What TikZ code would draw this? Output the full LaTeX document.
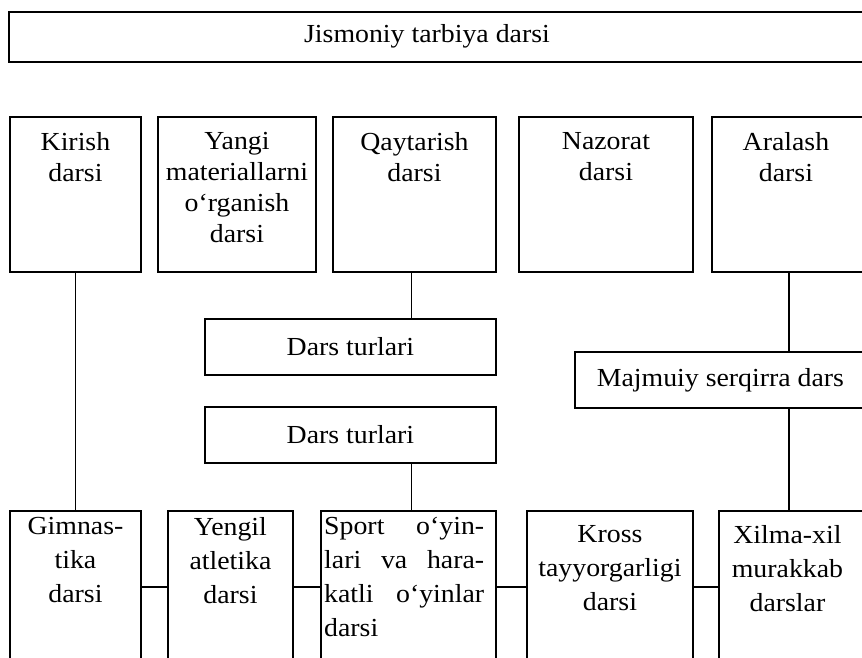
\documentclass[tikz,border=0pt]{standalone}
\usepackage{fontspec}
\setmainfont[FakeStretch=1.07]{Liberation Serif}
\usetikzlibrary{positioning}
\tikzset{
  lesson/.style={draw, line width=1.9pt, anchor=north west, inner sep=0pt, font=\fontsize{26}{31}\selectfont},
  caption/.style={inner sep=0pt, align=center, font=\fontsize{26}{31}\selectfont},
  lowcaption/.style={caption, font=\fontsize{26}{34}\selectfont},
  link/.style={line width=1.9pt}
}
\begin{document}
\begin{tikzpicture}[x=1pt, y=-1pt]
  \useasboundingbox (0,0) rectangle (862,658);
  \clip (0,0) rectangle (862,658);
  % title
  \node[lesson, minimum width=857pt, minimum height=50pt] (title) at (8,11) {};
  \node[caption] (titletext) at (427,36) {Jismoniy tarbiya darsi};
  % upper row
  \node[lesson, minimum width=131pt, minimum height=155pt] (kirish) at (9,116) {};
  \node[lesson, minimum width=158pt, minimum height=155pt] (yangi) at (157,116) {};
  \node[lesson, minimum width=163pt, minimum height=155pt] (qaytarish) at (332,116) {};
  \node[lesson, minimum width=174pt, minimum height=155pt] (nazorat) at (518,116) {};
  \node[lesson, minimum width=154pt, minimum height=155pt] (aralash) at (711,116) {};
  \node[caption, below = 16pt of kirish.north] (kirishtext) {Kirish\\darsi};
  \node[caption, below = 16pt of yangi.north] (yangitext) {Yangi\\materiallarni\\o‘rganish\\darsi};
  \node[caption, below = 16pt of qaytarish.north] (qaytarishtext) {Qaytarish\\darsi};
  \node[caption, below = 16pt of nazorat.north] (nazorattext) {Nazorat\\darsi};
  \node[caption, below = 16pt of aralash.north, xshift=-3pt] (aralashtext) {Aralash\\darsi};
  % middle
  \node[lesson, minimum width=291pt, minimum height=56pt] (turlari1) at (204,318) {Dars turlari};
  \node[lesson, minimum width=291pt, minimum height=56pt] (turlari2) at (204,406) {Dars turlari};
  \node[lesson, minimum width=291pt, minimum height=56pt] (majmuiy) at (574,351) {Majmuiy serqirra dars};
  % lower row
  \node[lesson, minimum width=131pt, minimum height=190pt] (gimnastika) at (9,510) {};
  \node[lesson, minimum width=125pt, minimum height=190pt] (yengil) at (167,510) {};
  \node[lesson, minimum width=175pt, minimum height=190pt] (sport) at (320,510) {};
  \node[lesson, minimum width=166pt, minimum height=190pt] (kross) at (526,510) {};
  \node[lesson, minimum width=147pt, minimum height=190pt] (xilma) at (718,510) {};
  \node[lowcaption, below = 7pt of gimnastika.north] (gimnastikatext) {Gimnas-\\tika\\darsi};
  \node[lowcaption, below = 7pt of yengil.north] (yengiltext) {Yengil\\atletika\\darsi};
  \node[lowcaption, text width=160pt, align=left, below right = 7pt and 4pt of sport.north west] (sporttext)
    {Sport\hfill o‘yin-\\lari\hfill va\hfill hara-\\katli\hfill o‘yinlar\\darsi};
  \node[lowcaption, below = 15pt of kross.north] (krosstext) {Kross\\tayyorgarligi\\darsi};
  \node[lowcaption, below = 15pt of xilma.north, xshift=-5pt] (xilmatext) {Xilma-xil\\murakkab\\darslar};
  % connectors
  \coordinate (hub) at (0,587);
  \coordinate (stem) at ([xshift=-3pt]qaytarish.south);
  \draw[link] (kirish) -- (gimnastika);
  \draw[link] (stem) -- (stem |- turlari1.north);
  \draw[link] (stem |- turlari2.south) -- (stem |- sport.north);
  \draw[link] (aralash.south) -- (aralash.south |- majmuiy.north);
  \draw[link] (aralash.south |- majmuiy.south) -- (aralash.south |- xilma.north);
  \foreach \a/\b in {gimnastika/yengil, yengil/sport, sport/kross, kross/xilma}
    \draw[link] (\a.east |- hub) -- (\b.west |- hub);
\end{tikzpicture}
\end{document}
